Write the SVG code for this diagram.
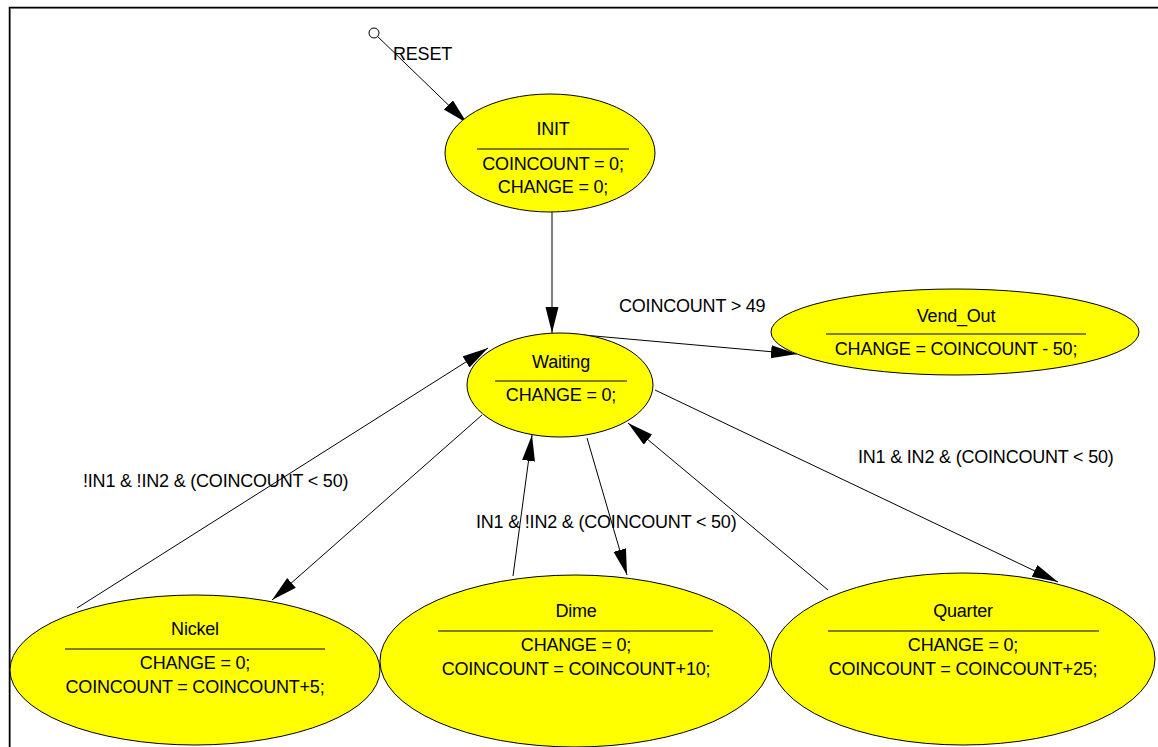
<svg xmlns="http://www.w3.org/2000/svg" width="1158" height="747" viewBox="0 0 1158 747">
  <style>
    text { font-family: "Liberation Sans", Arial, sans-serif; font-size: 18px; fill: #000; letter-spacing: -0.2px; }
    .mid { text-anchor: middle; }
    .state { fill: #ffff00; stroke: #000; stroke-width: 1; }
    .sep { stroke: #000; stroke-width: 1; }
    .edge { fill: none; stroke: #000; stroke-width: 1; marker-end: url(#arrow); }
  </style>
  <defs>
    <marker id="arrow" markerUnits="userSpaceOnUse" markerWidth="28" markerHeight="14" refX="26" refY="6.5" orient="auto">
      <path d="M0,0 L26,6.5 L0,13 z" fill="#000"/>
    </marker>
  </defs>

  <rect x="0" y="0" width="1158" height="747" fill="#fff"/>

  <!-- sheet frame -->
  <g id="frame" fill="none">
    <path d="M10.5,747 V8.5 H1158" stroke="#9a9a9a" stroke-width="1"/>
    <path d="M9.5,747 V7.5 H1158" stroke="#000" stroke-width="1.5"/>
  </g>

  <!-- transitions -->
  <g id="connectors">
    <circle cx="374" cy="33" r="5" fill="#fff" stroke="#000" stroke-width="1"/>
    <path class="edge" d="M377.6,36.5 L467,123"/>
    <path class="edge" d="M552,212 L552,333"/>
    <path class="edge" d="M583,335 L797,354"/>
    <path class="edge" d="M77,608 L488,348"/>
    <path class="edge" d="M482,415 L272,600"/>
    <path class="edge" d="M513,576 L532,435"/>
    <path class="edge" d="M587,438 L627,575"/>
    <path class="edge" d="M828,590 L628,423"/>
    <path class="edge" d="M655,390 L1058,582"/>
  </g>

  <!-- transition labels -->
  <g id="labels">
    <text x="393" y="60">RESET</text>
    <text x="619" y="312">COINCOUNT &gt; 49</text>
    <text x="83" y="487">!IN1 &amp; !IN2 &amp; (COINCOUNT &lt; 50)</text>
    <text x="476" y="528">IN1 &amp; !IN2 &amp; (COINCOUNT &lt; 50)</text>
    <text x="858" y="463">IN1 &amp; IN2 &amp; (COINCOUNT &lt; 50)</text>
  </g>

  <g id="INIT">
    <ellipse class="state" cx="550" cy="153" rx="105" ry="59"/>
    <text class="mid" x="553" y="135">INIT</text>
    <line class="sep" x1="477" y1="149" x2="629" y2="149"/>
    <text class="mid" x="553" y="170">COINCOUNT = 0;</text>
    <text class="mid" x="553" y="193">CHANGE = 0;</text>
  </g>

  <g id="Waiting">
    <ellipse class="state" cx="560" cy="385" rx="93" ry="52"/>
    <text class="mid" x="561" y="368">Waiting</text>
    <line class="sep" x1="495" y1="381" x2="627" y2="381"/>
    <text class="mid" x="561" y="401">CHANGE = 0;</text>
  </g>

  <g id="Vend_Out">
    <ellipse class="state" cx="955" cy="332" rx="184" ry="43"/>
    <text class="mid" x="956" y="322">Vend_Out</text>
    <line class="sep" x1="826" y1="334" x2="1086" y2="334"/>
    <text class="mid" x="956" y="355">CHANGE = COINCOUNT - 50;</text>
  </g>

  <g id="Nickel">
    <ellipse class="state" cx="195" cy="670" rx="185" ry="75"/>
    <text class="mid" x="195" y="635">Nickel</text>
    <line class="sep" x1="65" y1="649" x2="325" y2="649"/>
    <text class="mid" x="195" y="669">CHANGE = 0;</text>
    <text class="mid" x="195" y="693">COINCOUNT = COINCOUNT+5;</text>
  </g>

  <g id="Dime">
    <ellipse class="state" cx="575" cy="661" rx="195" ry="86"/>
    <text class="mid" x="576" y="617">Dime</text>
    <line class="sep" x1="438" y1="631" x2="713" y2="631"/>
    <text class="mid" x="576" y="651">CHANGE = 0;</text>
    <text class="mid" x="576" y="675">COINCOUNT = COINCOUNT+10;</text>
  </g>

  <g id="Quarter">
    <ellipse class="state" cx="963" cy="659" rx="192" ry="86"/>
    <text class="mid" x="963" y="617">Quarter</text>
    <line class="sep" x1="828" y1="631" x2="1099" y2="631"/>
    <text class="mid" x="963" y="651">CHANGE = 0;</text>
    <text class="mid" x="963" y="675">COINCOUNT = COINCOUNT+25;</text>
  </g>
</svg>
